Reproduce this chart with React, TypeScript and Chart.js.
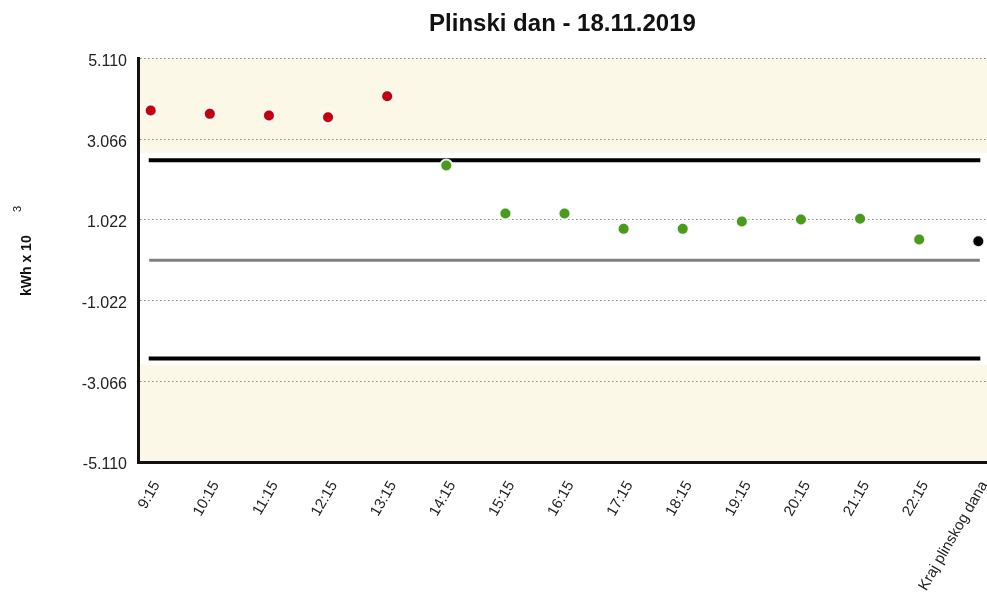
import React, { useEffect, useRef } from "react";
import { Chart, registerables } from "chart.js";

Chart.register(...registerables);

const titleText = "Plinski dan - 18.11.2019";
const yAxisTitle = "kWh x 10";
const yAxisExponent = "3";

const categories = [
  "9:15", "10:15", "11:15", "12:15", "13:15", "14:15", "15:15", "16:15",
  "17:15", "18:15", "19:15", "20:15", "21:15", "22:15", "Kraj plinskog dana",
];

const values = [
  3.792, 3.708, 3.665, 3.622, 4.154, 2.399, 1.183, 1.183,
  0.795, 0.795, 0.98, 1.03, 1.049, 0.524, 0.481,
];

const yTicks = [-5.11, -3.066, -1.022, 1.022, 3.066, 5.11];
const yMin = -5.11;
const yMax = 5.11;

const upperLimit = 2.533;
const lowerLimit = -2.49;
const zeroLine = 0;
const bandUpper = 2.72;
const bandLower = -2.64;

const RED = "#c0000c";
const GREEN = "#4a9a1e";
const BLACK = "#000000";
const CREAM = "#fcf8e8";
const FONT = "'Liberation Sans', Arial, sans-serif";

export default function App() {
  const ref = useRef<HTMLCanvasElement | null>(null);

  useEffect(() => {
    document.body.style.margin = "0";
    const canvas = ref.current;
    if (!canvas) return;

    const pointColors = values.map((v, i) =>
      i === values.length - 1 ? BLACK : v > upperLimit || v < lowerLimit ? RED : GREEN
    );

    const constLine = (y: number) => categories.map((_, i) => ({ x: i, y }));

    const bandsPlugin = {
      id: "bands",
      beforeDraw(chart: any) {
        const { ctx, chartArea } = chart;
        const ys = chart.scales.y;
        ctx.save();
        ctx.fillStyle = CREAM;
        const t1 = ys.getPixelForValue(yMax);
        const b1 = ys.getPixelForValue(bandUpper);
        ctx.fillRect(chartArea.left, t1, chartArea.right - chartArea.left, b1 - t1);
        const t2 = ys.getPixelForValue(bandLower);
        const b2 = ys.getPixelForValue(yMin);
        ctx.fillRect(chartArea.left, t2, chartArea.right - chartArea.left, b2 - t2);
        ctx.restore();
      },
      afterDraw(chart: any) {
        const { ctx } = chart;
        ctx.save();
        ctx.translate(31, 296);
        ctx.rotate(-Math.PI / 2);
        ctx.fillStyle = "#111";
        ctx.font = `bold 14px ${FONT}`;
        ctx.textAlign = "left";
        ctx.textBaseline = "alphabetic";
        ctx.fillText(yAxisTitle, 0, 0);
        ctx.font = `11px ${FONT}`;
        ctx.fillText(yAxisExponent, 84, -10);
        ctx.restore();
      },
    };

    const chart = new Chart(canvas, {
      type: "line",
      data: {
        datasets: [
          {
            label: "values",
            data: values.map((v, i) => ({ x: i, y: v })),
            showLine: false,
            pointRadius: 6,
            pointHoverRadius: 6,
            pointBackgroundColor: pointColors,
            pointBorderColor: "rgba(255,255,255,0.9)",
            pointBorderWidth: 2,
          },
          {
            label: "upper",
            data: constLine(upperLimit),
            borderColor: "#000",
            borderWidth: 4,
            borderCapStyle: "square",
            pointRadius: 0,
          },
          {
            label: "lower",
            data: constLine(lowerLimit),
            borderColor: "#000",
            borderWidth: 4,
            borderCapStyle: "square",
            pointRadius: 0,
          },
          {
            label: "zero",
            data: constLine(zeroLine),
            borderColor: "#808080",
            borderWidth: 3,
            borderCapStyle: "square",
            pointRadius: 0,
          },
        ],
      },
      options: {
        responsive: false,
        animation: false,
        devicePixelRatio: 1,
        layout: { autoPadding: false, padding: { left: 0, right: 0, top: 0, bottom: 0 } },
        plugins: {
          legend: { display: false },
          tooltip: { enabled: false },
          title: {
            display: true,
            text: titleText,
            fullSize: false,
            color: "#111",
            font: { family: FONT, size: 24, weight: "bold", lineHeight: 1.2 },
            padding: { top: 10, bottom: 19.7 },
          },
        },
        scales: {
          x: {
            type: "linear",
            min: -0.215,
            max: 14.147,
            grid: { display: false, drawTicks: false },
            border: { display: true, color: "#111", width: 3 },
            afterBuildTicks: (scale: any) => {
              scale.ticks = categories.map((_, i) => ({ value: i }));
            },
            afterFit: (scale: any) => {
              scale.height = 143;
              scale.paddingRight = 0;
              scale.paddingLeft = 0;
            },
            ticks: {
              autoSkip: false,
              maxRotation: 60,
              minRotation: 60,
              padding: 16,
              labelOffset: 6,
              color: "#222",
              font: { family: FONT, size: 15 },
              callback: (v: any) => categories[Math.round(Number(v))] ?? "",
            },
          },
          y: {
            type: "linear",
            min: yMin,
            max: yMax,
            afterBuildTicks: (scale: any) => {
              scale.ticks = yTicks.map((v) => ({ value: v }));
            },
            afterFit: (scale: any) => {
              scale.width = 138;
            },
            grid: {
              drawTicks: false,
              color: "#8a8a8a",
              lineWidth: 1,
            },
            border: { display: true, color: "#111", width: 3, dash: [1.5, 2.5] },
            ticks: {
              padding: 11,
              labelOffset: 3,
              color: "#222",
              font: { family: FONT, size: 16 },
              callback: (v: any) => Number(v).toFixed(3),
            },
          },
        },
      } as any,
      plugins: [bandsPlugin],
    });

    return () => chart.destroy();
  }, []);

  return (
    <div style={{ width: 987, height: 605 }}>
      <canvas ref={ref} width={987} height={605} style={{ display: "block" }} />
    </div>
  );
}
